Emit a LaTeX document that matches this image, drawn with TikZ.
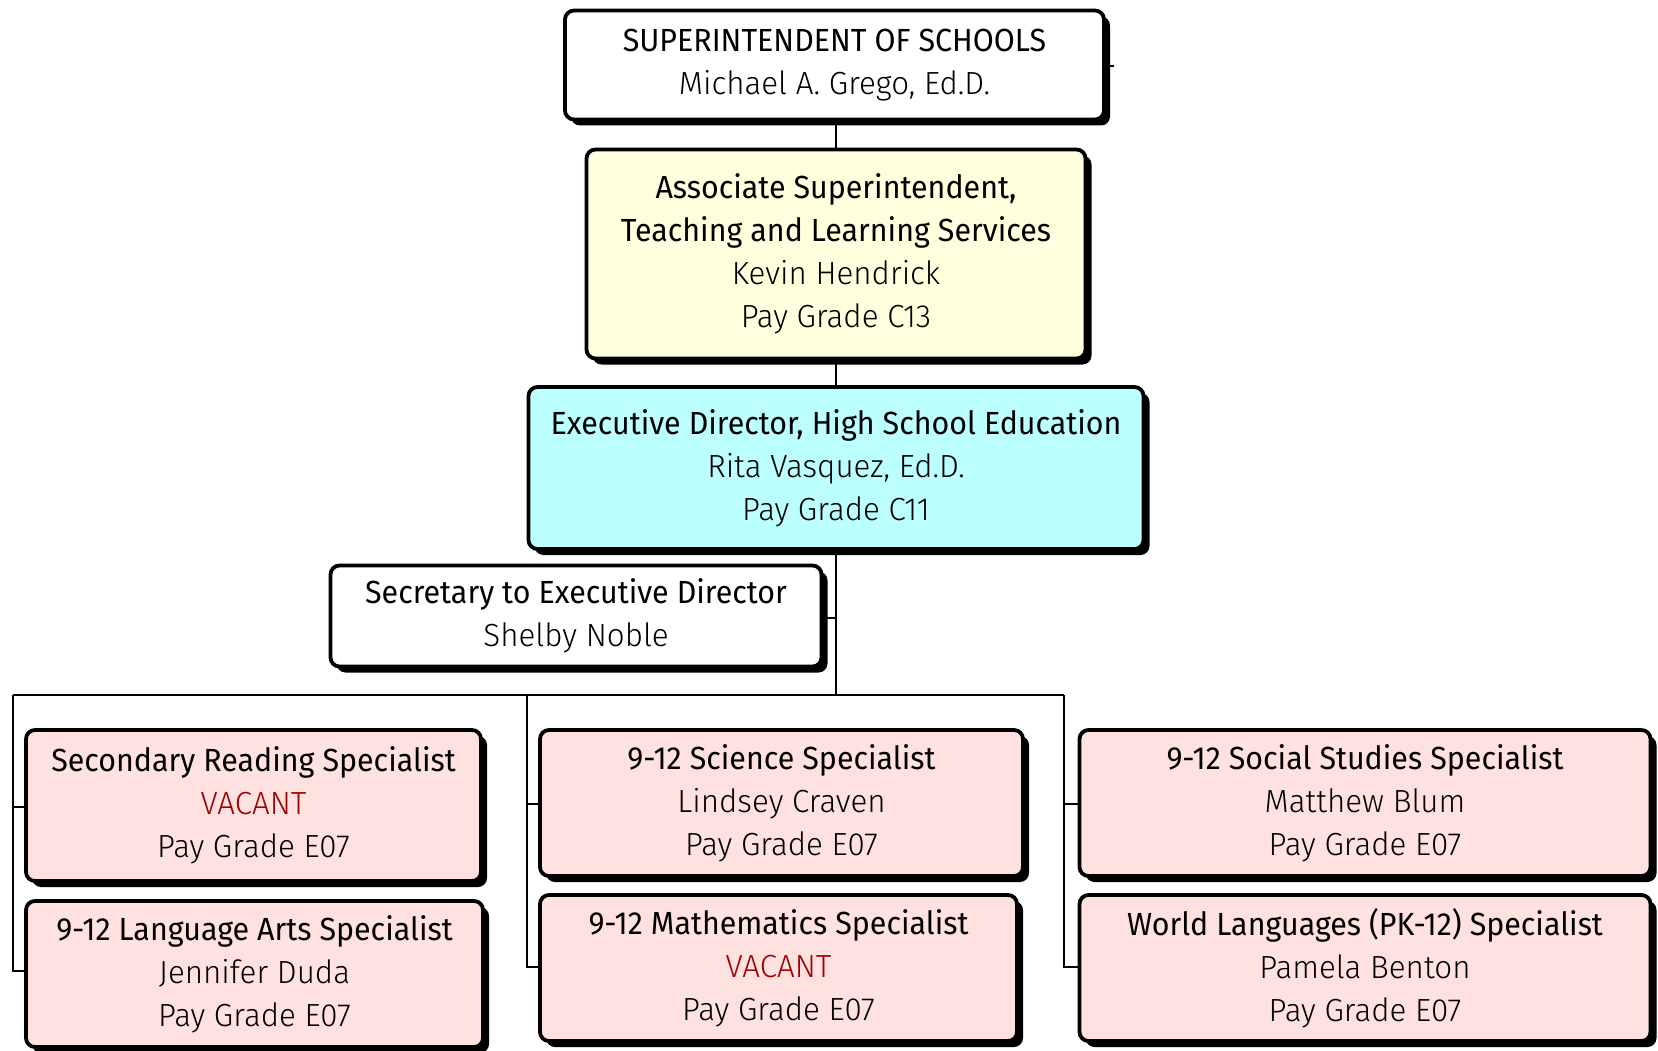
\documentclass[tikz,border=0pt]{standalone}
\usepackage{fontspec}
\setmainfont{Fira Sans}[FakeStretch=0.95]
\newfontfamily\lightf{Fira Sans}[UprightFont={* Light},FakeStretch=0.98]
\usetikzlibrary{shadows,backgrounds}
\definecolor{yel}{RGB}{255,255,221}
\definecolor{cyn}{RGB}{187,255,255}
\definecolor{pnk}{RGB}{255,226,224}
\definecolor{vac}{RGB}{160,0,0}
\newcommand{\nm}[1]{{\lightf #1}}
\begin{document}
\begin{tikzpicture}[x=1pt,y=-1pt,
  orgbox/.style={draw=black, line width=3.8pt, rounded corners=9pt, align=center, inner sep=0pt,
    font=\fontsize{32}{43}\selectfont,
    drop shadow={shadow xshift=6pt, shadow yshift=-6pt, fill=black, opacity=1}},
  conn/.style={line width=1.8pt, black}]
\useasboundingbox (0,0) rectangle (1658,1051);
\node[orgbox, fill=white, minimum width=539pt, minimum height=109pt] (sup) at (834.5,65)
  {SUPERINTENDENT OF SCHOOLS\\ \nm{Michael A. Grego, Ed.D.}};
\node[orgbox, fill=yel, minimum width=499pt, minimum height=209pt] (assoc) at (836,254)
  {Associate Superintendent,\\ Teaching and Learning Services\\ \nm{Kevin Hendrick}\\ \nm{Pay Grade C13}};
\node[orgbox, fill=cyn, minimum width=615pt, minimum height=162pt] (exec) at (836,468)
  {Executive Director, High School Education\\ \nm{Rita Vasquez, Ed.D.}\\ \nm{Pay Grade C11}};
\node[orgbox, fill=white, minimum width=491pt, minimum height=101pt,
  drop shadow={shadow xshift=3pt, shadow yshift=-3pt, fill=black, opacity=1}] (sec) at (576,616)
  {Secretary to Executive Director\\ \nm{Shelby Noble}};
\node[orgbox, fill=pnk, minimum width=455pt, minimum height=151pt] (read) at (253.5,805.5)
  {Secondary Reading Specialist\\ \nm{\textcolor{vac}{VACANT}}\\ \nm{Pay Grade E07}};
\node[orgbox, fill=pnk, minimum width=457pt, minimum height=146pt] (lang) at (254.5,974)
  {9-12 Language Arts Specialist\\ \nm{Jennifer Duda}\\ \nm{Pay Grade E07}};
\node[orgbox, fill=pnk, minimum width=483pt, minimum height=146pt] (sci) at (781.5,803)
  {9-12 Science Specialist\\ \nm{Lindsey Craven}\\ \nm{Pay Grade E07}};
\node[orgbox, fill=pnk, minimum width=477pt, minimum height=146pt] (math) at (778.5,968)
  {9-12 Mathematics Specialist\\ \nm{\textcolor{vac}{VACANT}}\\ \nm{Pay Grade E07}};
\node[orgbox, fill=pnk, minimum width=571pt, minimum height=146pt] (soc) at (1365,803)
  {9-12 Social Studies Specialist\\ \nm{Matthew Blum}\\ \nm{Pay Grade E07}};
\node[orgbox, fill=pnk, minimum width=571pt, minimum height=146pt] (wl) at (1365,968)
  {World Languages (PK-12) Specialist\\ \nm{Pamela Benton}\\ \nm{Pay Grade E07}};
% connectors
\coordinate (bus) at (836,695);
\coordinate (busL) at (13,695);
\coordinate (busM) at (527,695);
\coordinate (busR) at (1064,695);
\coordinate (stub) at (1114,66);
\begin{scope}[on background layer]
\draw[conn] (sup.east |- stub) -- (stub);
\draw[conn] (836,100) -- (bus);
\draw[conn] (sec.east |- 0,618) -- (836,618);
\draw[conn] (busL) -- (busR);
\draw[conn] (busL) -- (13,971) -- (lang.west |- 0,971);
\draw[conn] (13,807) -- (read.west |- 0,807);
\draw[conn] (busM) -- (527,967) -- (math.west |- 0,967);
\draw[conn] (527,804) -- (sci.west |- 0,804);
\draw[conn] (busR) -- (1064,967) -- (wl.west |- 0,967);
\draw[conn] (1064,804) -- (soc.west |- 0,804);
\end{scope}
\end{tikzpicture}
\end{document}
